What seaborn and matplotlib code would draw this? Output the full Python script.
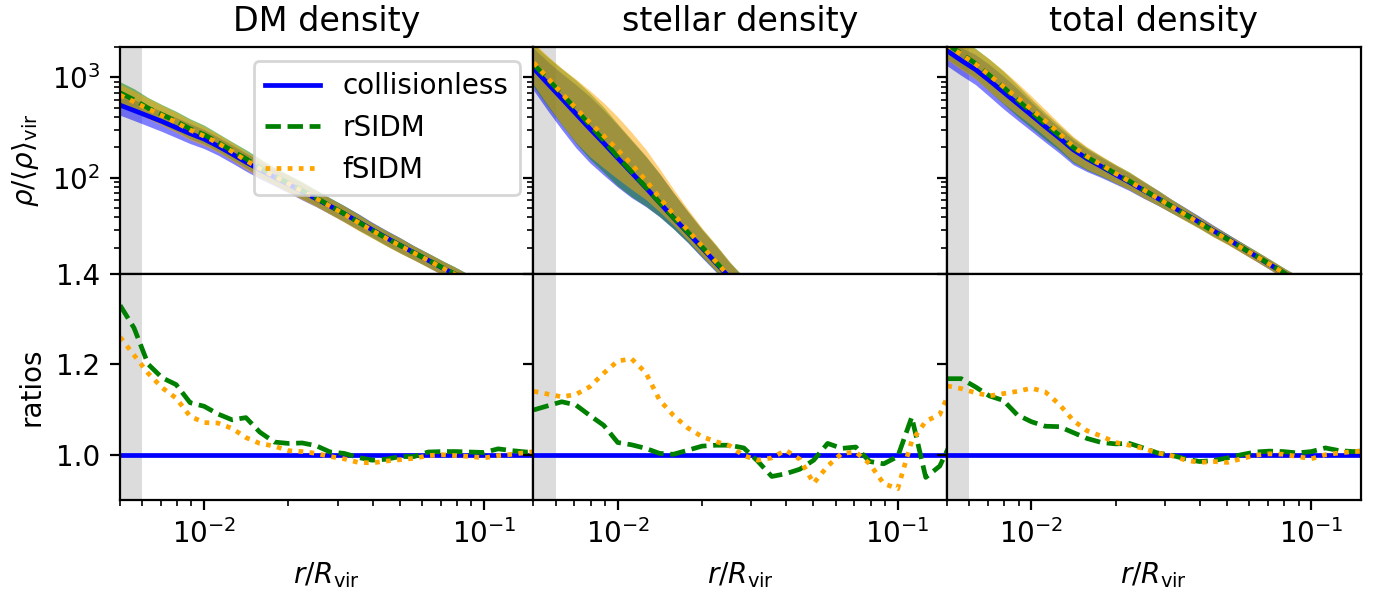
import numpy as np
import matplotlib
matplotlib.use("Agg")
import matplotlib.pyplot as plt
import seaborn as sns

# radial grid r / R_vir
r = [0.00501, 0.00562, 0.00631, 0.00708, 0.00794, 0.00891, 0.0100, 0.0112, 0.0126, 0.0141,
     0.0158, 0.0178, 0.0200, 0.0224, 0.0251, 0.0282, 0.0316, 0.0355, 0.0398, 0.0447,
     0.0501, 0.0562, 0.0631, 0.0708, 0.0794, 0.0891, 0.1000, 0.1122, 0.1259, 0.1413, 0.1585]

titles = ["DM density", "stellar density", "total density"]
models = ["collisionless", "rSIDM", "fSIDM"]

# log10 of collisionless density / <rho>_vir
dm_coll_log = [2.723, 2.67, 2.615, 2.56, 2.50, 2.44, 2.385, 2.315, 2.235, 2.155, 2.08, 2.005,
               1.935, 1.862, 1.79, 1.715, 1.64, 1.56, 1.48, 1.40, 1.325, 1.25, 1.175, 1.10,
               1.03, 0.955, 0.88, 0.80, 0.72, 0.64, 0.56]
st_coll_log = [3.09, 2.94, 2.79, 2.64, 2.49, 2.345, 2.195, 2.05, 1.90, 1.75, 1.60, 1.45,
               1.30, 1.15, 1.00, 0.85, 0.70, 0.55, 0.40, 0.25, 0.10, -0.05, -0.20, -0.35,
               -0.50, -0.65, -0.80, -0.95, -1.10, -1.25, -1.40]
tot_coll_log = [3.265, 3.17, 3.08, 2.97, 2.855, 2.74, 2.625, 2.51, 2.395, 2.28, 2.19, 2.11,
                2.03, 1.955, 1.875, 1.795, 1.715, 1.635, 1.555, 1.47, 1.39, 1.305, 1.22,
                1.135, 1.05, 0.97, 0.89, 0.81, 0.73, 0.65, 0.57]

# scatter band half-widths (dex), below / above each model's profile
dm_lo = [0.10] * 6 + [0.095] + [0.09] * 4 + [0.085] * 3 + [0.08] * 4 + [0.075] * 3 + [0.07] * 10
dm_hi = [0.11, 0.11, 0.105, 0.10, 0.10, 0.10] + [0.095] + [0.09] * 4 + [0.085] * 3 + [0.08] * 4 + [0.075] * 3 + [0.07] * 10
st_lo = [0.22, 0.27, 0.31, 0.34, 0.34, 0.32, 0.29, 0.25, 0.19, 0.14, 0.11, 0.10, 0.10, 0.09, 0.09] + [0.09] * 16
st_hi = [0.20, 0.22, 0.25, 0.29, 0.32, 0.33, 0.33, 0.32, 0.31, 0.29, 0.25, 0.21, 0.18, 0.17, 0.15] + [0.15] * 16
tot_lo = [0.15, 0.15, 0.15, 0.16, 0.167, 0.165, 0.16, 0.155, 0.15, 0.15, 0.13, 0.11, 0.095, 0.085,
          0.08, 0.07, 0.065, 0.06, 0.055, 0.055] + [0.05] * 11
tot_hi = [0.12, 0.13, 0.15, 0.16, 0.16, 0.15, 0.13, 0.115, 0.10, 0.10, 0.095, 0.09, 0.09, 0.09,
          0.085, 0.08, 0.07, 0.065, 0.06, 0.055] + [0.05] * 11

# ratios to collisionless
dm_rsidm = [1.33, 1.28, 1.20, 1.17, 1.155, 1.115, 1.107, 1.09, 1.077, 1.082, 1.05, 1.028, 1.025,
            1.026, 1.02, 1.006, 1.003, 0.994, 0.988, 0.99, 0.996, 0.996, 1.006, 1.007, 1.007,
            1.006, 1.005, 1.013, 1.009, 1.006, 1.008]
dm_fsidm = [1.26, 1.22, 1.18, 1.148, 1.125, 1.085, 1.071, 1.07, 1.058, 1.038, 1.025, 1.019, 1.009,
            1.007, 1.003, 0.996, 0.991, 0.983, 0.982, 0.986, 0.989, 0.992, 0.998, 1.0, 0.998,
            0.996, 0.993, 0.998, 1.001, 1.005, 1.008]
st_rsidm = [1.099, 1.108, 1.117, 1.11, 1.087, 1.065, 1.027, 1.022, 1.014, 1.003, 1.001, 1.01,
            1.019, 1.021, 1.021, 1.015, 0.986, 0.952, 0.958, 0.968, 0.988, 1.025, 1.014, 1.017,
            0.985, 0.98, 0.996, 1.083, 0.95, 0.975, 1.04]
st_fsidm = [1.14, 1.134, 1.128, 1.133, 1.15, 1.18, 1.207, 1.212, 1.181, 1.121, 1.087, 1.059, 1.04,
            1.029, 1.02, 0.998, 0.988, 0.993, 1.01, 0.99, 0.937, 0.975, 1.003, 1.006, 0.98,
            0.936, 0.925, 1.03, 1.074, 1.089, 1.16]
tot_rsidm = [1.168, 1.168, 1.15, 1.13, 1.12, 1.088, 1.073, 1.063, 1.062, 1.049, 1.036, 1.027,
             1.024, 1.025, 1.015, 1.004, 0.999, 0.991, 0.985, 0.987, 0.993, 1.0, 1.006, 1.008,
             1.007, 1.004, 1.007, 1.015, 1.009, 1.007, 1.009]
tot_fsidm = [1.152, 1.146, 1.137, 1.13, 1.135, 1.14, 1.147, 1.139, 1.111, 1.076, 1.053, 1.041,
             1.027, 1.021, 1.014, 1.004, 0.998, 0.988, 0.983, 0.985, 0.983, 0.991, 0.999, 1.002,
             1.001, 0.996, 0.991, 1.0, 1.004, 1.007, 1.008]

panels = [
    (dm_coll_log, dm_rsidm, dm_fsidm, dm_lo, dm_hi),
    (st_coll_log, st_rsidm, st_fsidm, st_lo, st_hi),
    (tot_coll_log, tot_rsidm, tot_fsidm, tot_lo, tot_hi),
]

colors = ["blue", "green", "orange"]
LW = 1.7
# dash patterns equivalent to matplotlib's defaults at lw=1.5, drawn a bit bolder
styles = ["-", (0, (3.26, 1.41)), (0, (1.0, 1.35))]

fig, axes = plt.subplots(2, 3, figsize=(6.895, 2.96), dpi=200, sharex=True, sharey="row")
fig.subplots_adjust(left=0.0869, right=0.9867, top=0.9201, bottom=0.1554, hspace=0, wspace=0)

rr = np.array(r)
for j, (coll_log, rs, fs, lo, hi) in enumerate(panels):
    at, ab = axes[0, j], axes[1, j]
    for ax in (at, ab):
        ax.set_xscale("log")
        ax.axvspan(1e-3, 0.006, color="gainsboro", lw=0, zorder=0)
    at.set_yscale("log")
    coll = 10 ** np.array(coll_log)
    ratios = [coll / coll, np.array(rs), np.array(fs)]
    lo_a, hi_a = np.array(lo), np.array(hi)
    dens = [coll * q for q in ratios]
    for d, c in zip(dens, colors):
        at.fill_between(rr, d * 10 ** (-lo_a), d * 10 ** hi_a, color=c, alpha=0.5, lw=0, zorder=1)
    for d, q, c, ls, m in zip(dens, ratios, colors, styles, models):
        kw = dict(label=m) if j == 0 else {}
        sns.lineplot(x=rr, y=d, ax=at, color=c, linestyle=ls, lw=LW, zorder=2, **kw)
        sns.lineplot(x=rr, y=q, ax=ab, color=c, linestyle=ls, lw=LW, zorder=2)
    at.set_title(titles[j], fontsize=12)
    ab.set_xlabel(r"$r/R_{\rm vir}$", fontsize=10)
    for ax in (at, ab):
        if ax.get_legend() is not None:
            ax.get_legend().remove()

axes[0, 0].set_xlim(0.005, 0.15)
axes[0, 0].set_ylim(11, 2000)
axes[1, 0].set_ylim(0.9, 1.4)
axes[1, 0].set_yticks([1.0, 1.2, 1.4])
axes[0, 0].set_ylabel(r"$\rho/\langle\rho\rangle_{\rm vir}$", fontsize=10)
axes[1, 0].set_ylabel("ratios", fontsize=10)
for ax in axes[0, 1:]:
    ax.set_ylabel("")
for ax in axes[1, 1:]:
    ax.set_ylabel("")
axes[0, 0].legend(loc="upper right", fontsize=10)

fig.savefig("out.png", dpi=200)
